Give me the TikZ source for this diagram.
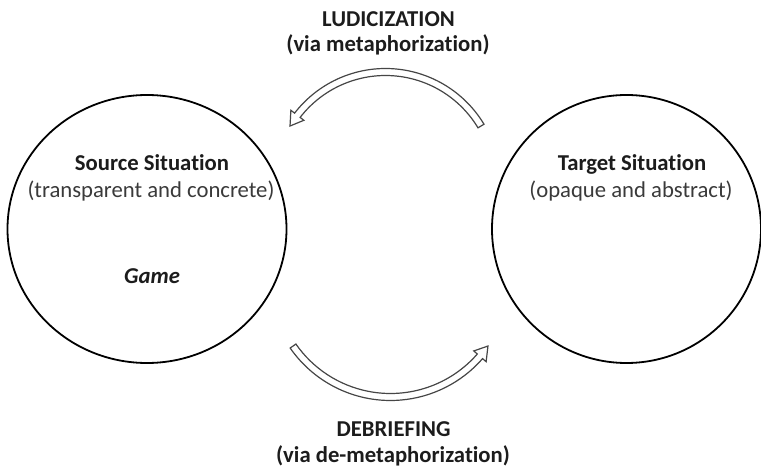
\documentclass[tikz,border=0pt]{standalone}
\usepackage{fontspec}
\setmainfont{Carlito}[Ligatures=NoCommon]
\usetikzlibrary{shapes.geometric}
\definecolor{titlecol}{RGB}{28,28,28}
\definecolor{subcol}{RGB}{58,58,58}
\definecolor{arrowcol}{RGB}{70,70,70}
\tikzset{
  situation/.style={draw=black, line width=1.8pt, ellipse, inner sep=0pt},
  lbl/.style={font=\fontsize{22.7}{27}\selectfont, anchor=base, inner sep=0pt},
  titletxt/.style={lbl, font=\fontsize{22.7}{27}\selectfont\bfseries, text=titlecol},
  subtxt/.style={lbl, text=subcol},
  hollowarrow/.style={draw=arrowcol, line width=1.2pt, fill=white, line join=miter}
}
\begin{document}
\begin{tikzpicture}[x=1pt,y=1pt]
\useasboundingbox (0,0) rectangle (761,469);
% circles
\node[situation, minimum width=279pt, minimum height=268pt] (src) at (147,240) {};
\node[situation, minimum width=269pt, minimum height=268pt] (tgt) at (626.5,240) {};
% texts inside circles
\node[titletxt] (srctitle) at (152,298) {Source Situation};
\node[subtxt] (srcsub) at (151,271) {(transparent and concrete)};
\node[titletxt, font=\fontsize{22.7}{27}\selectfont\bfseries\itshape] (game) at (152,185) {Game};
\node[titletxt] (tgttitle) at (632,298) {Target Situation};
\node[subtxt] (tgtsub) at (631,271) {(opaque and abstract)};
% top label
\node[titletxt] (lud) at (388.5,442) {LUDICIZATION};
\node[titletxt] (ludvia) at (388,417) {(via metaphorization)};
% bottom label
\node[titletxt] (deb) at (393.5,32) {DEBRIEFING};
\node[titletxt] (debvia) at (393,7) {(via de-metaphorization)};
% top hollow arrow (towards source)
\coordinate (topc) at (385.5,285.6);
\draw[hollowarrow, shift={(topc)}]
  (31:114.9) arc[start angle=31, end angle=142.3, radius=114.9]
  -- (142.3:119.6) -- (149:111.4) -- (142.3:103.2) -- (142.3:107.9)
  arc[start angle=142.3, end angle=31, radius=107.9] -- cycle;
% bottom hollow arrow (towards target)
\coordinate (botc) at (390.5,190.7);
\draw[hollowarrow, shift={(botc)}]
  (214.8:122.2) arc[start angle=214.8, end angle=318.9, radius=122.2]
  -- (318.9:126.9) -- (325.2:118.7) -- (318.9:110.5) -- (318.9:115.2)
  arc[start angle=318.9, end angle=214.8, radius=115.2] -- cycle;
\end{tikzpicture}
\end{document}
